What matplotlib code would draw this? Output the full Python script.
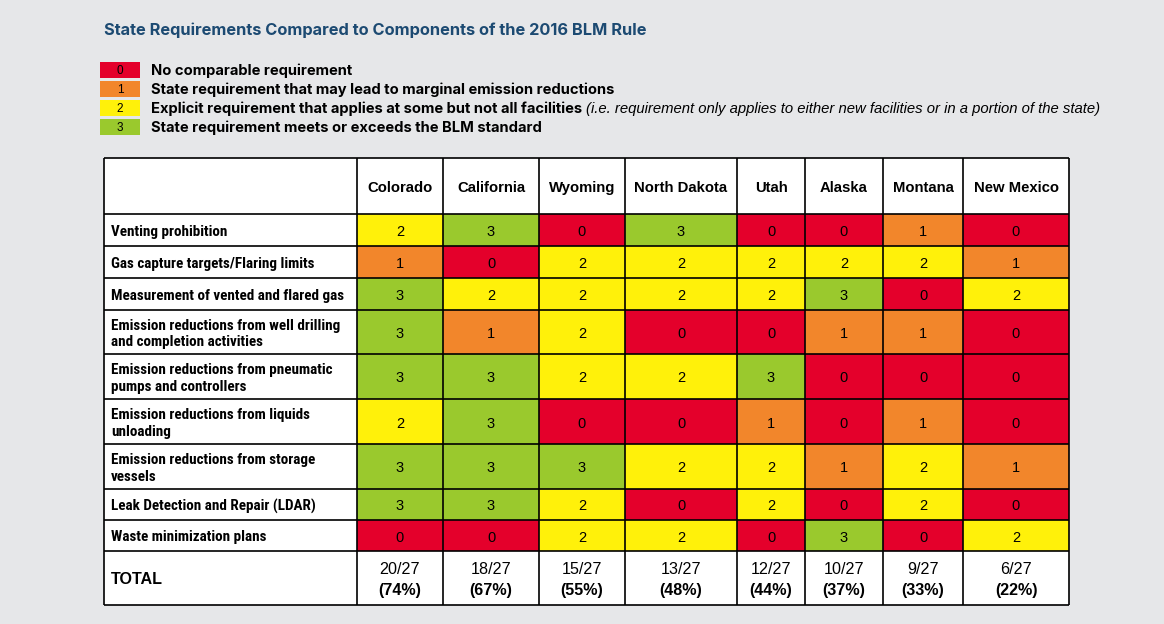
import matplotlib
matplotlib.use('Agg')
import matplotlib.pyplot as plt
import numpy as np
from matplotlib.colors import ListedColormap
from matplotlib.patches import Rectangle

# ---- data -------------------------------------------------------------
states = ['Colorado', 'California', 'Wyoming', 'North Dakota', 'Utah',
          'Alaska', 'Montana', 'New Mexico']
components = [
    'Venting prohibition',
    'Gas capture targets/Flaring limits',
    'Measurement of vented and flared gas',
    'Emission reductions from well drilling\nand completion activities',
    'Emission reductions from pneumatic\npumps and controllers',
    'Emission reductions from liquids\nunloading',
    'Emission reductions from storage\nvessels',
    'Leak Detection and Repair (LDAR)',
    'Waste minimization plans',
]
scores = [
    [2, 3, 0, 3, 0, 0, 1, 0],
    [1, 0, 2, 2, 2, 2, 2, 1],
    [3, 2, 2, 2, 2, 3, 0, 2],
    [3, 1, 2, 0, 0, 1, 1, 0],
    [3, 3, 2, 2, 3, 0, 0, 0],
    [2, 3, 0, 0, 1, 0, 1, 0],
    [3, 3, 3, 2, 2, 1, 2, 1],
    [3, 3, 2, 0, 2, 0, 2, 0],
    [0, 0, 2, 2, 0, 3, 0, 2],
]
totals = ['20/27', '18/27', '15/27', '13/27', '12/27', '10/27', '9/27', '6/27']
percents = ['(74%)', '(67%)', '(55%)', '(48%)', '(44%)', '(37%)', '(33%)', '(22%)']
legend_labels = [
    'No comparable requirement',
    'State requirement that may lead to marginal emission reductions',
    'Explicit requirement that applies at some but not all facilities',
    'State requirement meets or exceeds the BLM standard',
]
legend_note = '(i.e. requirement only applies to either new facilities or in a portion of the state)'

# ---- style ------------------------------------------------------------
colors = ['#e4002b', '#f2862b', '#fff10a', '#9ac92d']
bg = '#e6e7e9'
title_color = '#1c4a72'
head_font = ['Inter', 'DejaVu Sans']
narrow_font = ['Roboto Condensed', 'DejaVu Sans']
plain_font = ['Liberation Sans', 'DejaVu Sans']
plt.rcParams['font.family'] = plain_font

# table geometry in pixels
x_edges = np.array([104, 357, 443, 539, 625, 737, 805, 883, 963, 1069])
y_edges = np.array([158, 214, 246, 278, 310, 354, 399, 444, 489, 520, 551, 605])
dy = 2  # text baseline nudge (va='center' sits a bit high)

fig = plt.figure(figsize=(11.64, 6.24), dpi=100, facecolor=bg)
ax = fig.add_axes([0, 0, 1, 1])
ax.set_xlim(0, 1164)
ax.set_ylim(624, 0)
ax.axis('off')

ax.text(104, 29 + 1, 'State Requirements Compared to Components of the 2016 BLM Rule',
        color=title_color, fontsize=11.8, fontweight='bold', va='center',
        family=head_font)

# legend
leg_y = [70, 89, 108, 127]
for i, (lab, c) in enumerate(zip(legend_labels, colors)):
    ax.add_patch(Rectangle((100, leg_y[i] - 8), 40, 16, color=c, lw=0))
    ax.text(120, leg_y[i] + 1, str(i), fontsize=8.5, ha='center', va='center')
    t = ax.text(151, leg_y[i] + 1, lab, fontsize=10.6, fontweight='bold',
                va='center', family=head_font)
    if i == 2:
        fig.canvas.draw()
        bb = t.get_window_extent().transformed(ax.transData.inverted())
        ax.text(bb.x1 + 4, leg_y[i] + 1, legend_note, fontsize=10.75,
                style='italic', va='center')

# table body
ax.add_patch(Rectangle((x_edges[0], y_edges[0]), x_edges[-1] - x_edges[0],
                       y_edges[-1] - y_edges[0], facecolor='white', lw=0))
vals = np.array(scores)
ax.pcolormesh(x_edges[1:], y_edges[1:-1], vals, cmap=ListedColormap(colors),
              vmin=-0.5, vmax=3.5)

ax.hlines(y_edges, x_edges[0], x_edges[-1], color='black', lw=1.2)
ax.vlines(x_edges, y_edges[0], y_edges[-1], color='black', lw=1.2)

xc = (x_edges[1:] + x_edges[:-1]) / 2
yc = (y_edges[1:] + y_edges[:-1]) / 2 + dy

for j, s in enumerate(states):
    ax.text(xc[j + 1], yc[0], s, fontsize=10.7, fontweight='bold',
            ha='center', va='center')

for i, comp in enumerate(components):
    ax.text(x_edges[0] + 7, yc[i + 1], comp, fontsize=10.9, fontweight='bold',
            va='center', linespacing=1.2, family=narrow_font)
    for j in range(len(states)):
        ax.text(xc[j + 1], yc[i + 1], str(scores[i][j]), fontsize=10.5,
                ha='center', va='center')

ax.text(x_edges[0] + 7, yc[-1], 'TOTAL', fontsize=11.6, fontweight='bold', va='center')
for j in range(len(states)):
    ax.text(xc[j + 1], yc[-1] - 10, totals[j], fontsize=11.6, ha='center', va='center')
    ax.text(xc[j + 1], yc[-1] + 10, percents[j], fontsize=11.6, fontweight='bold',
            ha='center', va='center')

fig.savefig('out.png', dpi=100, facecolor=bg)
